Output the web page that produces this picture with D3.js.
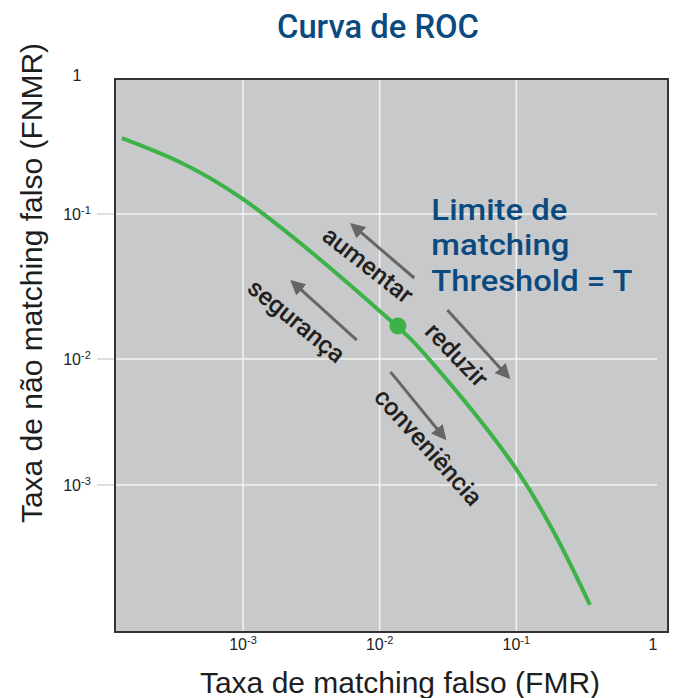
<!DOCTYPE html>
<html lang="pt">

<head>
  <meta charset="UTF-8">
  <script src="https://cdn.jsdelivr.net/npm/d3@7"></script>
  <title>Curva de ROC</title>
  <style>
    body {
      margin: 0;
      background: #fff;
    }

    .tick-label {
      font-family: "Liberation Sans", Arial, sans-serif;
      font-size: 16px;
      fill: #222;
    }

    .axis-title {
      font-family: "Liberation Sans", Arial, sans-serif;
      font-size: 30px;
      fill: #1e1e1e;
    }

    .din {
      font-family: Roboto, "Noto Sans", sans-serif;
      font-weight: 500;
    }
  </style>
</head>

<body>
  <div class="fig"></div>

  <script>
    /*------------------- data --------------------*/
    // ROC curve: false match rate vs false non-match rate
    const fmrValues = [1.30e-4, 1.0e-3, 1.02e-2, 2.33e-2, 0.101, 0.346];
    const fnmrValues = [0.352, 0.128, 0.0211, 0.0098, 0.00131, 1.12e-4];

    // operating point (threshold T)
    const thresholdPoint = { fmr: 0.0136, fnmr: 0.0169 };

    // tick values
    const xTickValues = [1e-3, 1e-2, 1e-1, 1];
    const yTickValues = [1, 1e-1, 1e-2, 1e-3];

    // arrows along the curve: [fmr, fnmr] tail -> tip
    const arrowTails = [[0.0179, 0.0362], [0.0068, 0.0135], [0.0313, 0.0218], [0.0120, 0.0079]];
    const arrowTips = [[0.0063, 0.084], [0.0023, 0.034], [0.0873, 0.0072], [0.0298, 0.00236]];

    // rotated words next to the arrows
    const arrowWords = ["aumentar", "segurança", "reduzir", "conveniência"];
    const arrowWordAnchors = [[0.0082, 0.0445], [0.00246, 0.0183], [0.0366, 0.0107], [0.0227, 0.0020]];
    const arrowWordAngles = [38, 39, 46, 48];

    const thresholdLines = ["Limite de", "matching", "Threshold = T"];
    const thresholdAnchor = [0.0239, 0.091];

    /*------------------- layout --------------------*/
    const width = 673, height = 698;
    const frame = { left: 115, right: 668, top: 79, bottom: 632 };
    const green = "#3db249";
    const blue = "#0b4a7e";
    const thrWidths = [136, 138, 201];

    const svg = d3.select(".fig").append("svg")
      .attr("width", width)
      .attr("height", height);

    // log scales (y axis decades are not evenly spaced in the picture)
    const x = d3.scaleLog()
      .domain([1e-3, 1])
      .range([243, 653]);

    const y = d3.scaleLog()
      .domain([1, 1e-1, 1e-2, 1e-3])
      .range([75, 214, 359, 485]);

    // arrow head
    svg.append("defs").append("marker")
      .attr("id", "head")
      .attr("viewBox", "0 0 10 10")
      .attr("refX", 8)
      .attr("refY", 5)
      .attr("markerWidth", 5)
      .attr("markerHeight", 5)
      .attr("markerUnits", "strokeWidth")
      .attr("orient", "auto")
      .append("path")
      .attr("d", "M0,0 L10,5 L0,10 Z")
      .attr("fill", "#666");

    /*------------------- frame + grid --------------------*/
    svg.append("rect")
      .attr("x", frame.left)
      .attr("y", frame.top)
      .attr("width", frame.right - frame.left)
      .attr("height", frame.bottom - frame.top)
      .attr("fill", "#c8c9cb");

    const gridY = yTickValues.filter(v => v < 1);
    const gridX = xTickValues.filter(v => v < 1);

    // short tick outside the frame
    svg.selectAll(".tick-y")
      .data(gridY)
      .enter()
      .append("line")
      .attr("x1", 97)
      .attr("x2", frame.left)
      .attr("y1", d => y(d))
      .attr("y2", d => y(d))
      .attr("stroke", "#d4d4d4")
      .attr("stroke-width", 1.5);

    svg.selectAll(".grid-y")
      .data(gridY)
      .enter()
      .append("line")
      .attr("x1", frame.left)
      .attr("x2", 657)
      .attr("y1", d => y(d))
      .attr("y2", d => y(d))
      .attr("stroke", "#f2f2f2")
      .attr("stroke-width", 1.5);

    svg.selectAll(".grid-x")
      .data(gridX)
      .enter()
      .append("line")
      .attr("x1", d => x(d))
      .attr("x2", d => x(d))
      .attr("y1", frame.top)
      .attr("y2", frame.bottom)
      .attr("stroke", "#f2f2f2")
      .attr("stroke-width", 1.5);

    svg.append("rect")
      .attr("x", frame.left)
      .attr("y", frame.top)
      .attr("width", frame.right - frame.left)
      .attr("height", frame.bottom - frame.top)
      .attr("fill", "none")
      .attr("stroke", "#333")
      .attr("stroke-width", 2);

    /*------------------- tick labels --------------------*/
    const addPow = (sel) => {
      sel.each(function (d) {
        const e = Math.round(Math.log10(d));
        const t = d3.select(this);
        if (e === 0) {
          t.text("1");
        } else {
          t.append("tspan").text("10");
          t.append("tspan")
            .attr("font-size", "11px")
            .attr("dy", -6)
            .text(e);
        }
      });
    };

    svg.selectAll(".xt")
      .data(xTickValues)
      .enter()
      .append("text")
      .attr("class", "tick-label")
      .attr("x", d => x(d))
      .attr("y", 650)
      .attr("text-anchor", "middle")
      .call(addPow);

    svg.selectAll(".yt")
      .data(yTickValues)
      .enter()
      .append("text")
      .attr("class", "tick-label")
      .attr("x", 77)
      .attr("y", d => y(d) + 6)
      .attr("text-anchor", "middle")
      .call(addPow);

    /*------------------- titles --------------------*/
    svg.append("text")
      .attr("class", "din")
      .attr("x", 378)
      .attr("y", 38)
      .attr("text-anchor", "middle")
      .attr("font-size", "33px")
      .attr("textLength", 202)
      .attr("lengthAdjust", "spacingAndGlyphs")
      .attr("fill", blue)
      .text("Curva de ROC");

    svg.append("text")
      .attr("class", "axis-title")
      .attr("x", 400)
      .attr("y", 693)
      .attr("text-anchor", "middle")
      .text("Taxa de matching falso (FMR)");

    svg.append("text")
      .attr("class", "axis-title")
      .attr("transform", "translate(42,283) rotate(-90)")
      .attr("text-anchor", "middle")
      .text("Taxa de não matching falso (FNMR)");

    /*------------------- curve --------------------*/
    const curveData = fmrValues.map((v, i) => [v, fnmrValues[i]]);

    const line = d3.line()
      .x(d => x(d[0]))
      .y(d => y(d[1]))
      .curve(d3.curveNatural);

    svg.append("path")
      .datum(curveData)
      .attr("d", line)
      .attr("fill", "none")
      .attr("stroke", green)
      .attr("stroke-width", 4);

    svg.append("circle")
      .attr("cx", x(thresholdPoint.fmr))
      .attr("cy", y(thresholdPoint.fnmr))
      .attr("r", 8.5)
      .attr("fill", green);

    /*------------------- arrows + words --------------------*/
    svg.selectAll(".arrow")
      .data(arrowTails)
      .enter()
      .append("line")
      .attr("x1", d => x(d[0]))
      .attr("y1", d => y(d[1]))
      .attr("x2", (d, i) => x(arrowTips[i][0]))
      .attr("y2", (d, i) => y(arrowTips[i][1]))
      .attr("stroke", "#666")
      .attr("stroke-width", 3)
      .attr("marker-end", "url(#head)");

    svg.selectAll(".word")
      .data(arrowWords)
      .enter()
      .append("text")
      .attr("class", "din")
      .attr("font-weight", 400)
      .attr("font-size", "25px")
      .attr("fill", "#231f20")
      .attr("text-anchor", "middle")
      .attr("dominant-baseline", "central")
      .attr("transform", (d, i) => {
        const a = arrowWordAnchors[i];
        return `translate(${x(a[0])},${y(a[1])}) rotate(${arrowWordAngles[i]})`;
      })
      .text(d => d);

    // one text per line of the threshold label, stretched to the picture's widths
    svg.selectAll(".thr")
      .data(thresholdLines)
      .enter()
      .append("text")
      .attr("class", "din")
      .attr("font-size", "30px")
      .attr("fill", blue)
      .attr("x", x(thresholdAnchor[0]))
      .attr("y", (d, i) => y(thresholdAnchor[1]) + i * 35.5)
      .attr("textLength", (d, i) => thrWidths[i])
      .attr("lengthAdjust", "spacingAndGlyphs")
      .text(d => d);
  </script>
</body>

</html>
